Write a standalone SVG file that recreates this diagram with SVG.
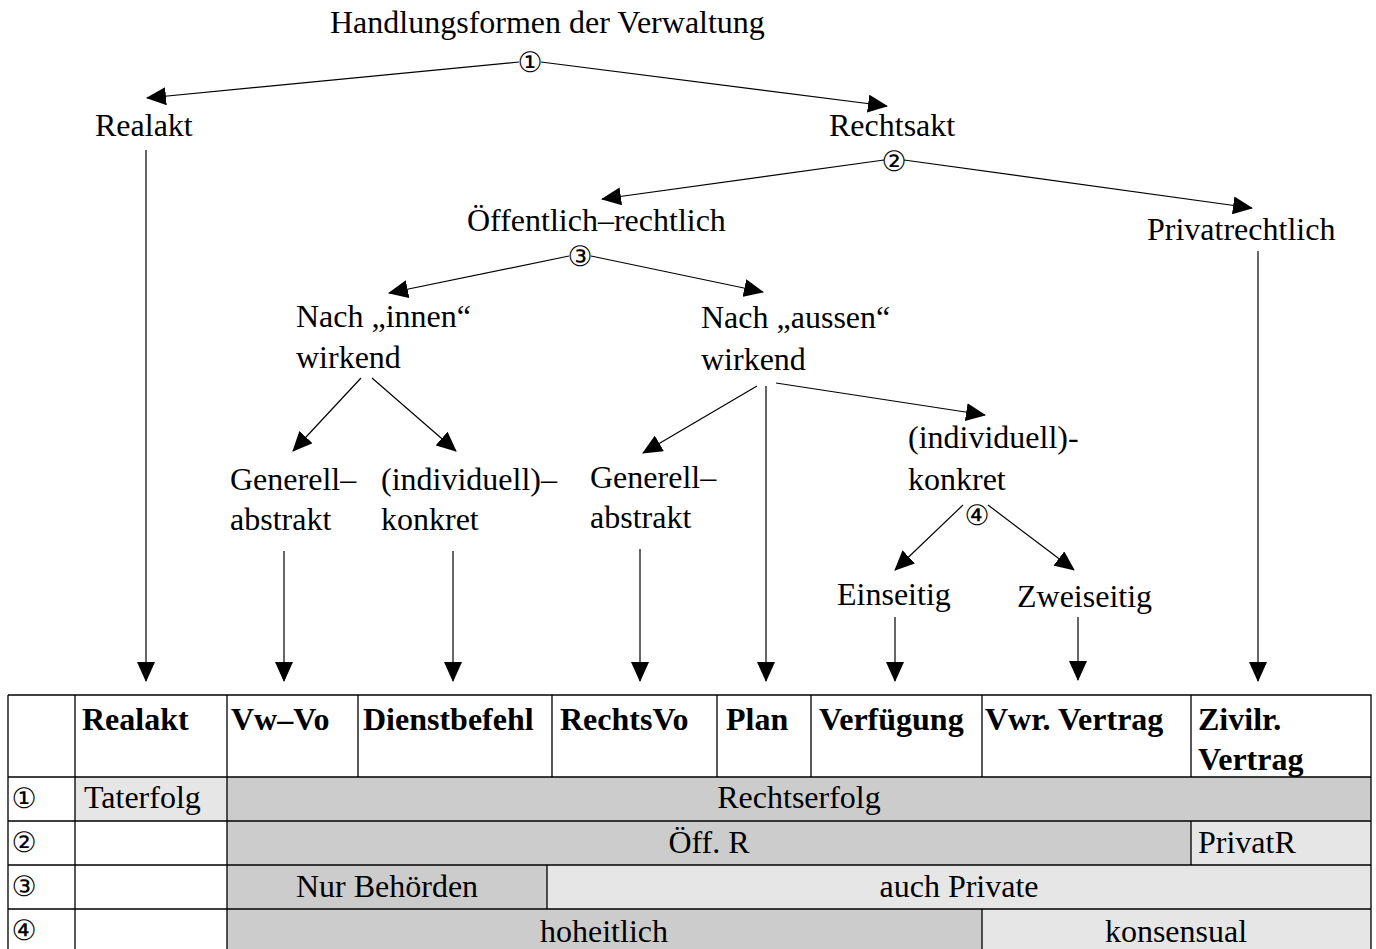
<svg xmlns="http://www.w3.org/2000/svg" width="1376" height="949" viewBox="0 0 1376 949">
<defs>
<marker id="ah" markerUnits="userSpaceOnUse" markerWidth="20" markerHeight="18" refX="19" refY="9" orient="auto">
<path d="M0,0 L20,9 L0,18 z" fill="#000"/>
</marker>
<style>
text{font-family:"Liberation Serif","Times New Roman",serif;font-size:32px;fill:#000}
.b{font-weight:bold}
.m{text-anchor:middle}
.c{font-family:"DejaVu Sans","Noto Sans CJK JP",sans-serif;font-size:28px;text-anchor:middle;dominant-baseline:central}
.ln{stroke:#000;stroke-width:1.2;fill:none}
.ar{stroke:#000;stroke-width:1.2;fill:none;marker-end:url(#ah)}
.grid{stroke:#000;stroke-width:1.3;fill:none}
.dk{fill:#cccccc}
.lt{fill:#e6e6e6}
</style>
</defs>
<rect width="1376" height="949" fill="#fff"/>

<g id="connectors">
<line class="ar" x1="519" y1="62" x2="147" y2="98"/>
<line class="ar" x1="541" y1="62" x2="887" y2="106"/>
<line class="ar" x1="146" y1="150" x2="146" y2="681"/>
<line class="ar" x1="884" y1="160" x2="602" y2="199"/>
<line class="ar" x1="904" y1="160" x2="1252" y2="208"/>
<line class="ar" x1="1258" y1="251" x2="1258" y2="681"/>
<line class="ar" x1="569" y1="256" x2="389" y2="293"/>
<line class="ar" x1="591" y1="256" x2="763" y2="292"/>
<line class="ar" x1="361" y1="378" x2="293" y2="451"/>
<line class="ar" x1="372" y1="378" x2="456" y2="451"/>
<line class="ar" x1="284" y1="551" x2="284" y2="681"/>
<line class="ar" x1="453" y1="551" x2="453" y2="681"/>
<line class="ar" x1="757" y1="386" x2="643" y2="453"/>
<line class="ar" x1="766" y1="386" x2="766" y2="681"/>
<line class="ar" x1="776" y1="383" x2="985" y2="415"/>
<line class="ar" x1="640" y1="549" x2="640" y2="681"/>
<line class="ar" x1="963" y1="505" x2="895" y2="570"/>
<line class="ar" x1="988" y1="505" x2="1074" y2="570"/>
<line class="ar" x1="895" y1="617" x2="895" y2="681"/>
<line class="ar" x1="1078" y1="617" x2="1078" y2="680"/>
</g>

<g id="n-root">
<text x="330" y="33">Handlungsformen der Verwaltung</text>
<text class="c" x="530" y="62">①</text>
</g>
<g id="n-realakt"><text x="95" y="136">Realakt</text></g>
<g id="n-rechtsakt">
<text x="829" y="136">Rechtsakt</text>
<text class="c" x="894" y="161">②</text>
</g>
<g id="n-oeffentlich">
<text x="467" y="231">Öffentlich–rechtlich</text>
<text class="c" x="580" y="256">③</text>
</g>
<g id="n-privatrechtlich"><text x="1147" y="240">Privatrechtlich</text></g>
<g id="n-innen">
<text x="296" y="327">Nach „innen“</text>
<text x="296" y="368">wirkend</text>
</g>
<g id="n-aussen">
<text x="701" y="328">Nach „aussen“</text>
<text x="701" y="370">wirkend</text>
</g>
<g id="n-generell-innen">
<text x="230" y="490">Generell–</text>
<text x="230" y="530">abstrakt</text>
</g>
<g id="n-individuell-innen">
<text x="381" y="490">(individuell)–</text>
<text x="381" y="530">konkret</text>
</g>
<g id="n-generell-aussen">
<text x="590" y="488">Generell–</text>
<text x="590" y="528">abstrakt</text>
</g>
<g id="n-individuell-aussen">
<text x="908" y="448">(individuell)-</text>
<text x="908" y="490">konkret</text>
<text class="c" x="977" y="515">④</text>
</g>
<g id="n-einseitig"><text x="837" y="605">Einseitig</text></g>
<g id="n-zweiseitig"><text x="1017" y="607">Zweiseitig</text></g>

<g id="table">
<rect class="lt" x="75" y="777" width="152" height="44"/>
<rect class="dk" x="227" y="777" width="1144" height="44"/>
<rect class="dk" x="227" y="821" width="964" height="44"/>
<rect class="lt" x="1191" y="821" width="180" height="44"/>
<rect class="dk" x="227" y="865" width="320" height="44"/>
<rect class="lt" x="547" y="865" width="824" height="44"/>
<rect class="dk" x="227" y="909" width="755" height="44"/>
<rect class="lt" x="982" y="909" width="389" height="44"/>
<path class="grid" d="M8,695 H1371 V955 M8,695 V955 M8,777 H1371 M8,821 H1371 M8,865 H1371 M8,909 H1371 M75,695 V955 M227,695 V955 M358,695 V777 M552,695 V777 M717,695 V777 M811,695 V777 M982,695 V777 M1191,695 V777 M1191,821 V865 M547,865 V909 M982,909 V955"/>
<text class="b" x="82" y="730">Realakt</text>
<text class="b" x="231" y="730">Vw–Vo</text>
<text class="b" x="363" y="730">Dienstbefehl</text>
<text class="b" x="560" y="730">RechtsVo</text>
<text class="b" x="726" y="730">Plan</text>
<text class="b" x="819" y="730">Verfügung</text>
<text class="b" x="985" y="730">Vwr. Vertrag</text>
<text class="b" x="1198" y="730">Zivilr.</text>
<text class="b" x="1198" y="770">Vertrag</text>
<text class="c" x="24" y="798">①</text>
<text class="c" x="24" y="842">②</text>
<text class="c" x="24" y="886">③</text>
<text class="c" x="24" y="930">④</text>
<text x="84" y="808">Taterfolg</text>
<text class="m" x="799" y="808">Rechtserfolg</text>
<text class="m" x="709" y="853">Öff. R</text>
<text x="1198" y="853">PrivatR</text>
<text class="m" x="387" y="897">Nur Behörden</text>
<text class="m" x="959" y="897">auch Private</text>
<text class="m" x="604" y="942">hoheitlich</text>
<text class="m" x="1176" y="942">konsensual</text>
</g>
</svg>
